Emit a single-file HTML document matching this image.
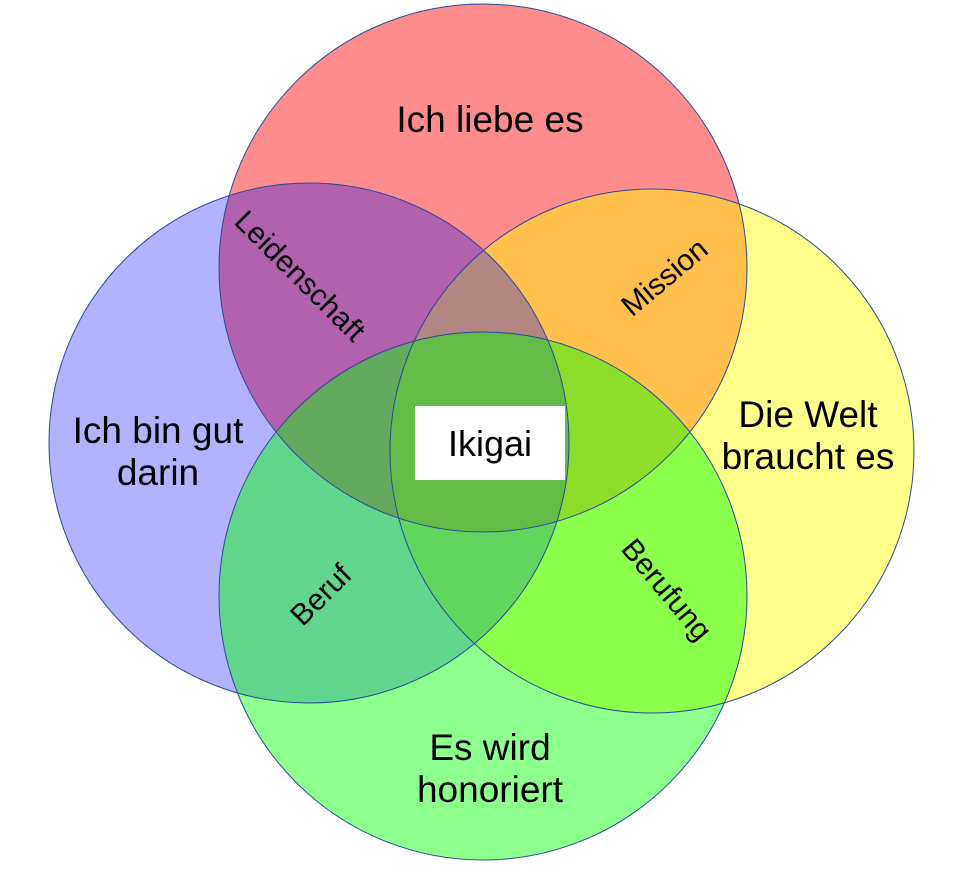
<!DOCTYPE html>
<html><head><meta charset="utf-8"><style>
html,body{margin:0;padding:0;background:#fff;}
svg{display:block;}
text{font-family:"Liberation Sans",sans-serif;fill:#000;}
</style></head><body>
<svg width="965" height="887" viewBox="0 0 965 887">
<circle cx="483" cy="268" r="264" fill="#ff0000" fill-opacity="0.45"/>
<circle cx="652" cy="451" r="262" fill="#ffff00" fill-opacity="0.45"/>
<circle cx="309" cy="443" r="260" fill="#0000ff" fill-opacity="0.3"/>
<circle cx="483" cy="596" r="264" fill="#00ff00" fill-opacity="0.45"/>
<g fill="none" stroke="#2a4a9a" stroke-width="1">
<circle cx="483" cy="268" r="264"/>
<circle cx="309" cy="443" r="260"/>
<circle cx="652" cy="451" r="262"/>
<circle cx="483" cy="596" r="264"/>
</g>
<rect x="415" y="406" width="150" height="74" fill="#fff"/>
<text x="490" y="456" font-size="36" text-anchor="middle">Ikigai</text>
<text x="490" y="132" font-size="37" text-anchor="middle">Ich liebe es</text>
<text x="158" y="443" font-size="37" text-anchor="middle">Ich bin gut</text>
<text x="158" y="485" font-size="37" text-anchor="middle">darin</text>
<text x="808" y="427" font-size="37" text-anchor="middle">Die Welt</text>
<text x="808" y="469" font-size="37" text-anchor="middle">braucht es</text>
<text x="490" y="760" font-size="37" text-anchor="middle">Es wird</text>
<text x="490" y="802" font-size="37" text-anchor="middle">honoriert</text>
<text font-size="30" text-anchor="middle" transform="translate(293,283) rotate(45)">Leidenschaft</text>
<text font-size="30" text-anchor="middle" transform="translate(671,285) rotate(-40)">Mission</text>
<text font-size="30" text-anchor="middle" transform="translate(328,602) rotate(-45)">Beruf</text>
<text font-size="30" text-anchor="middle" transform="translate(659,596) rotate(50)">Berufung</text>
</svg>
</body></html>
